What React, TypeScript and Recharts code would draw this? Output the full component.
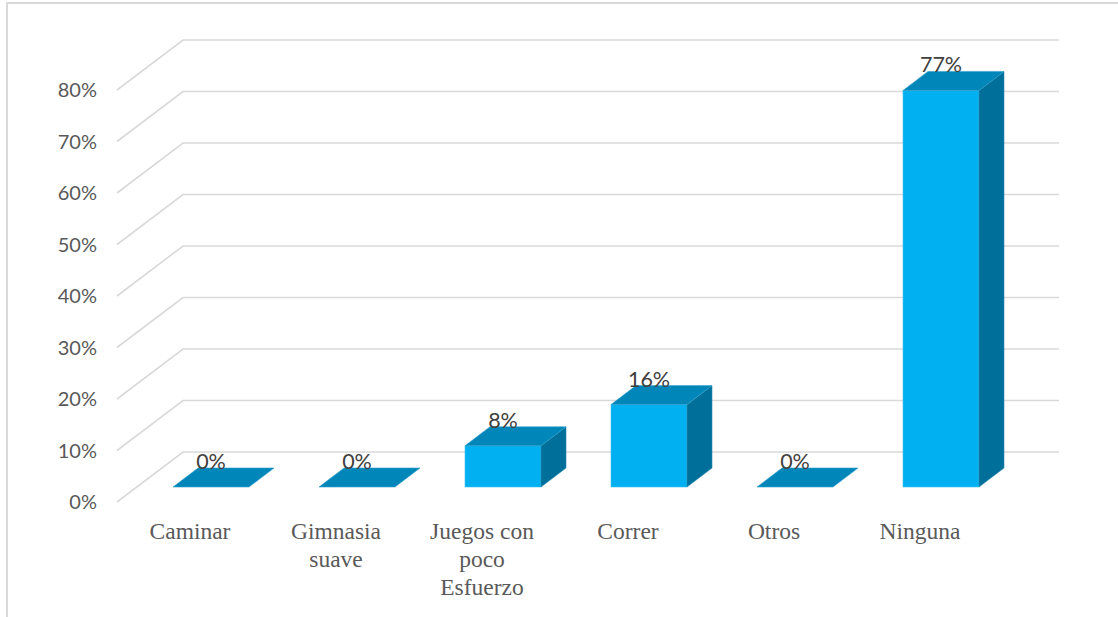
import React from 'react';
import { BarChart, Bar, XAxis, YAxis, CartesianGrid, LabelList } from 'recharts';

const categories = ['Caminar', 'Gimnasia\nsuave', 'Juegos con\npoco\nEsfuerzo', 'Correr', 'Otros', 'Ninguna'];
const values = [0, 0, 8, 16, 0, 77];
const yTicks = [0, 10, 20, 30, 40, 50, 60, 70, 80];

const data = categories.map((name, i) => ({ name, value: values[i] }));

// 3D offsets
const WALL_DX = 66;
const WALL_DY = -50;
const BAR_DX = 21;
const BAR_DY = -15;
const DEPTH_DX = 25;
const DEPTH_DY = -19;

const FRONT = '#00B0F0';
const TOP = '#0086B9';
const SIDE = '#006F99';

const Bar3D = (props: any) => {
  const { x, y, width, height } = props;
  const fx = x + BAR_DX;
  const fy = y + BAR_DY;
  const bottom = fy + height;
  return (
    <g>
      {height > 0 && (
        <>
          <rect x={fx} y={fy} width={width} height={height} fill={FRONT} stroke="#3FC2F2" strokeWidth={0.6} />
          <polygon
            points={`${fx + width},${fy} ${fx + width},${bottom} ${fx + width + DEPTH_DX},${bottom + DEPTH_DY} ${fx + width + DEPTH_DX},${fy + DEPTH_DY}`}
            fill={SIDE}
            stroke="#2A8CB3"
            strokeWidth={0.6}
          />
        </>
      )}
      <polygon
        points={`${fx},${fy} ${fx + width},${fy} ${fx + width + DEPTH_DX},${fy + DEPTH_DY} ${fx + DEPTH_DX},${fy + DEPTH_DY}`}
        fill={TOP}
        stroke="#2FA0CC"
        strokeWidth={0.6}
      />
    </g>
  );
};

const gridLine = (props: any) => {
  const { x1, x2, y1, index } = props;
  const d = `M${x1},${y1} L${x1 + WALL_DX},${y1 + WALL_DY} L${x2 + WALL_DX},${y1 + WALL_DY}`;
  return <path key={`grid-${index}`} d={d} fill="none" stroke="#D9D9D9" strokeWidth={1.6} />;
};

const CategoryTick = (props: any) => {
  const { x, y, payload } = props;
  const lines = String(payload.value).split('\n');
  return (
    <text
      x={x}
      y={y + 37}
      textAnchor="middle"
      fill="#595959"
      fontFamily="'Liberation Serif', 'Times New Roman', serif"
      fontSize={23.5}
    >
      {lines.map((line, i) => (
        <tspan key={i} x={x} dy={i === 0 ? 0 : 28}>
          {line}
        </tspan>
      ))}
    </text>
  );
};

const ValueLabel = (props: any) => {
  const { x, y, width, value } = props;
  return (
    <text
      x={x + width / 2 + BAR_DX}
      y={y + BAR_DY - 18}
      textAnchor="middle"
      fill="#404040"
      fontFamily="Lato, 'Liberation Sans', sans-serif"
      fontSize={21.5}
    >
      {`${value}%`}
    </text>
  );
};

export default function App() {
  return (
    <div
      style={{
        position: 'absolute',
        left: 0,
        top: 0,
        width: 1118,
        height: 617,
        overflow: 'hidden',
        background: '#fff',
      }}
    >
      <div
        style={{
          position: 'absolute',
          left: 6,
          top: 2,
          width: 1200,
          height: 700,
          border: '2px solid #D9D9D9',
        }}
      />
      <div style={{ position: 'absolute', left: 0, top: 0 }}>
        <BarChart width={1118} height={617} data={data} margin={{ top: 90, right: 125, bottom: 0, left: 0 }}>
          <CartesianGrid vertical={false} horizontal={gridLine} />
          <XAxis
            dataKey="name"
            axisLine={false}
            tickLine={false}
            tickSize={0}
            tickMargin={0}
            height={115}
            interval={0}
            tick={<CategoryTick />}
          />
          <YAxis
            domain={[0, 80]}
            ticks={yTicks}
            width={117}
            axisLine={false}
            tickLine={false}
            tickSize={0}
            tickMargin={20}
            tickFormatter={(v: number) => `${v}%`}
            tick={{ fill: '#595959', fontSize: 20, fontFamily: "Lato, 'Liberation Sans', sans-serif" }}
          />
          <Bar dataKey="value" barSize={76} shape={<Bar3D />} isAnimationActive={false}>
            <LabelList dataKey="value" content={<ValueLabel />} />
          </Bar>
        </BarChart>
      </div>
    </div>
  );
}
